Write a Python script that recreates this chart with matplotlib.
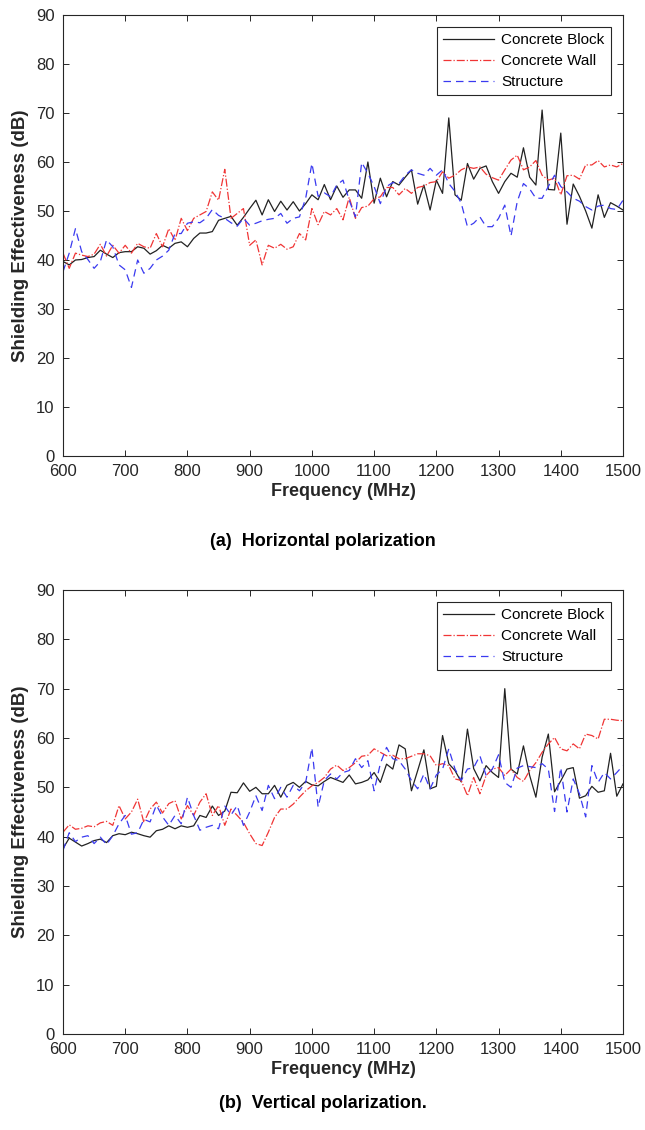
import numpy as np
import matplotlib
matplotlib.use("Agg")
import matplotlib.pyplot as plt

plt.rcParams['font.family'] = ['Liberation Sans', 'DejaVu Sans']

# frequency sweep (MHz)
freq = np.arange(600, 1501, 10)

# (a) horizontal polarization
h_block = [39.7, 39.0, 40.0, 40.1, 40.5, 40.7, 42.0, 41.2, 40.5, 41.5,
           41.7, 41.7, 42.7, 42.4, 41.2, 41.9, 43.0, 42.4, 43.4, 43.7,
           42.7, 44.4, 45.5, 45.5, 45.8, 48.1, 48.5, 48.9, 47.1, 48.7,
           50.5, 52.2, 49.2, 52.3, 49.9, 52.0, 50.2, 51.9, 50.0, 51.5,
           53.3, 52.3, 55.4, 52.3, 55.1, 52.8, 54.3, 54.3, 52.6, 60.0,
           51.6, 56.7, 52.9, 56.0, 55.3, 56.9, 58.4, 51.4, 55.3, 50.2,
           56.3, 53.6, 69.0, 53.3, 52.2, 59.7, 56.5, 58.7, 59.2, 56.0,
           53.6, 56.0, 57.7, 56.9, 62.9, 56.9, 55.3, 70.6, 54.4, 54.3,
           65.9, 47.3, 55.5, 53.0, 50.0, 46.5, 53.3, 48.7, 51.7, 51.0,
           50.2]
h_wall = [41.4, 38.3, 41.4, 41.0, 40.7, 41.2, 43.2, 40.8, 43.0, 41.4,
          43.0, 41.4, 43.4, 42.7, 42.4, 45.4, 42.7, 46.4, 44.0, 48.5,
          46.0, 48.5, 49.2, 49.9, 53.9, 52.2, 58.5, 48.5, 49.5, 50.5,
          43.0, 44.1, 39.0, 43.0, 42.4, 43.2, 42.2, 42.7, 45.4, 44.1,
          50.5, 47.2, 49.9, 49.2, 50.5, 48.2, 52.8, 48.5, 50.7, 51.0,
          52.5, 52.9, 54.8, 54.8, 53.3, 54.6, 53.6, 54.8, 55.1, 55.8,
          56.0, 58.0, 56.7, 57.3, 58.4, 59.0, 58.7, 59.0, 57.5, 56.8,
          56.3, 58.4, 60.4, 61.4, 58.4, 59.0, 60.3, 57.3, 56.3, 56.7,
          53.3, 57.2, 57.3, 56.5, 59.4, 59.4, 60.3, 59.0, 59.4, 59.0,
          59.7]
h_struct = [37.6, 41.4, 46.4, 41.7, 40.1, 38.3, 39.7, 44.1, 42.7, 39.0,
            38.0, 34.4, 40.0, 37.3, 38.3, 40.0, 40.8, 42.0, 45.4, 45.4,
            47.5, 47.8, 47.6, 48.5, 50.3, 49.1, 48.5, 47.6, 46.9, 48.5,
            47.1, 47.5, 48.0, 48.3, 48.5, 49.5, 47.5, 48.5, 48.8, 52.6,
            59.7, 53.0, 53.7, 52.9, 55.3, 56.3, 52.2, 48.8, 59.9, 57.7,
            55.0, 51.5, 55.0, 55.8, 55.6, 57.3, 58.4, 57.7, 57.3, 58.7,
            57.3, 58.4, 55.6, 54.0, 51.6, 46.8, 47.5, 48.8, 46.8, 46.8,
            48.5, 51.2, 44.9, 51.9, 55.6, 54.5, 52.6, 52.6, 55.0, 57.3,
            55.0, 53.9, 52.6, 52.0, 50.9, 50.2, 51.0, 51.2, 50.5, 50.3,
            52.2]

# (b) vertical polarization
v_block = [37.6, 39.7, 38.9, 38.1, 38.6, 39.2, 39.5, 38.8, 40.2, 40.6,
           40.4, 40.9, 40.6, 40.2, 39.9, 41.2, 41.5, 42.2, 41.6, 42.2,
           41.9, 42.2, 44.3, 43.9, 46.2, 44.3, 45.2, 49.0, 48.9, 50.9,
           49.2, 50.0, 48.7, 48.7, 50.4, 48.0, 50.4, 51.0, 50.0, 51.2,
           50.5, 50.3, 51.2, 52.0, 51.5, 51.0, 52.5, 50.7, 51.0, 51.5,
           53.0, 51.0, 54.7, 53.7, 58.6, 57.8, 49.3, 53.4, 57.6, 49.7,
           50.2, 60.5, 54.8, 53.4, 51.1, 61.8, 53.8, 51.3, 54.4, 53.0,
           52.0, 70.0, 53.7, 52.7, 58.4, 52.4, 48.0, 56.1, 60.8, 49.1,
           51.3, 53.7, 54.0, 47.8, 48.3, 50.2, 49.0, 49.3, 56.9, 48.2,
           50.7]
v_wall = [40.9, 42.4, 41.5, 41.7, 42.2, 42.0, 42.8, 43.1, 42.3, 46.3,
          43.6, 45.0, 47.6, 42.9, 45.6, 47.0, 44.8, 46.7, 47.3, 43.6,
          46.3, 44.3, 47.0, 48.7, 44.3, 46.3, 42.3, 45.6, 44.3, 42.9,
          40.6, 38.6, 38.2, 40.9, 43.9, 45.6, 45.6, 46.6, 48.0, 49.3,
          50.3, 51.0, 52.0, 53.7, 54.5, 53.4, 54.0, 55.0, 56.3, 56.5,
          57.8, 57.1, 56.4, 56.5, 55.8, 55.8, 56.3, 56.8, 56.8, 56.4,
          54.4, 54.8, 54.4, 51.7, 51.4, 48.3, 52.0, 48.7, 52.4, 53.7,
          54.0, 52.4, 53.7, 52.0, 51.2, 53.4, 55.0, 57.1, 58.8, 60.1,
          57.8, 57.4, 58.8, 57.8, 60.8, 60.5, 59.8, 63.8, 63.8, 63.6,
          63.5]
v_struct = [37.2, 40.8, 39.0, 39.9, 40.2, 38.6, 39.9, 38.4, 40.2, 42.6,
            44.3, 40.5, 40.8, 43.5, 43.0, 46.4, 44.0, 42.3, 44.3, 42.6,
            48.0, 44.3, 41.3, 41.9, 42.3, 41.6, 46.2, 44.4, 46.3, 42.3,
            45.0, 48.3, 45.3, 50.4, 47.7, 50.0, 48.0, 50.4, 49.3, 51.0,
            58.0, 46.0, 51.4, 52.7, 51.7, 53.0, 53.4, 55.8, 54.0, 55.4,
            49.3, 54.8, 58.1, 55.8, 55.4, 53.7, 51.4, 49.7, 52.7, 49.7,
            52.5, 53.7, 57.8, 53.7, 51.4, 53.7, 54.0, 56.4, 52.4, 53.7,
            56.6, 51.0, 50.0, 53.9, 54.4, 54.2, 54.0, 54.8, 53.7, 45.1,
            54.0, 45.0, 51.7, 48.7, 44.0, 54.4, 51.0, 53.0, 51.7, 53.0,
            54.4]

labels = ['Concrete Block', 'Concrete Wall', 'Structure']
captions = ['(a)  Horizontal polarization', '(b)  Vertical polarization.']

W, H = 645, 1130
fig = plt.figure(figsize=(W / 100, H / 100), dpi=100)

# axes boxes in pixels: left, top, right, bottom
boxes = [(63, 15, 623, 456), (63, 590, 623, 1034)]
caption_y = [541, 1103]
panels = [(h_block, h_wall, h_struct), (v_block, v_wall, v_struct)]

grey = '#262626'
for (l, t, r, b), data, cap, cy in zip(boxes, panels, captions, caption_y):
    ax = fig.add_axes([l / W, 1 - b / H, (r - l) / W, (b - t) / H])
    block, wall, struct = data
    ax.plot(freq, block, color='#222222', lw=0.9, ls='-', label=labels[0])
    ax.plot(freq, wall, color='#f03535', lw=0.9, ls='-.', label=labels[1])
    ax.plot(freq, struct, color='#3a3af0', lw=0.9, ls=(0, (6, 4)), label=labels[2])

    ax.set_xlim(600, 1500)
    ax.set_ylim(0, 90)
    ax.set_xticks(np.arange(600, 1501, 100))
    ax.set_yticks(np.arange(0, 91, 10))
    ax.tick_params(direction='in', top=True, right=True, length=4,
                   width=0.7, colors=grey, labelsize=12)
    ax.tick_params(axis='x', pad=6)
    ax.tick_params(axis='y', pad=6)
    for s in ax.spines.values():
        s.set_color(grey)
        s.set_linewidth(0.8)

    ax.set_xlabel('Frequency (MHz)', fontsize=13, fontweight='bold',
                  color=grey, labelpad=3)
    ax.set_ylabel('Shielding Effectiveness (dB)', fontsize=13.5,
                  fontweight='bold', color=grey, labelpad=5)

    leg = ax.legend(loc='upper right', fontsize=11, handlelength=3.3,
                    handletextpad=0.5, borderaxespad=0.8, fancybox=False,
                    framealpha=1, labelspacing=0.45, borderpad=0.4)
    leg.get_frame().set_edgecolor(grey)
    leg.get_frame().set_linewidth(0.8)

    fig.text(0.5, 1 - cy / H, cap, ha='center', va='center',
             fontsize=13, fontweight='bold', color='black')

fig.savefig('out.png', dpi=100)
